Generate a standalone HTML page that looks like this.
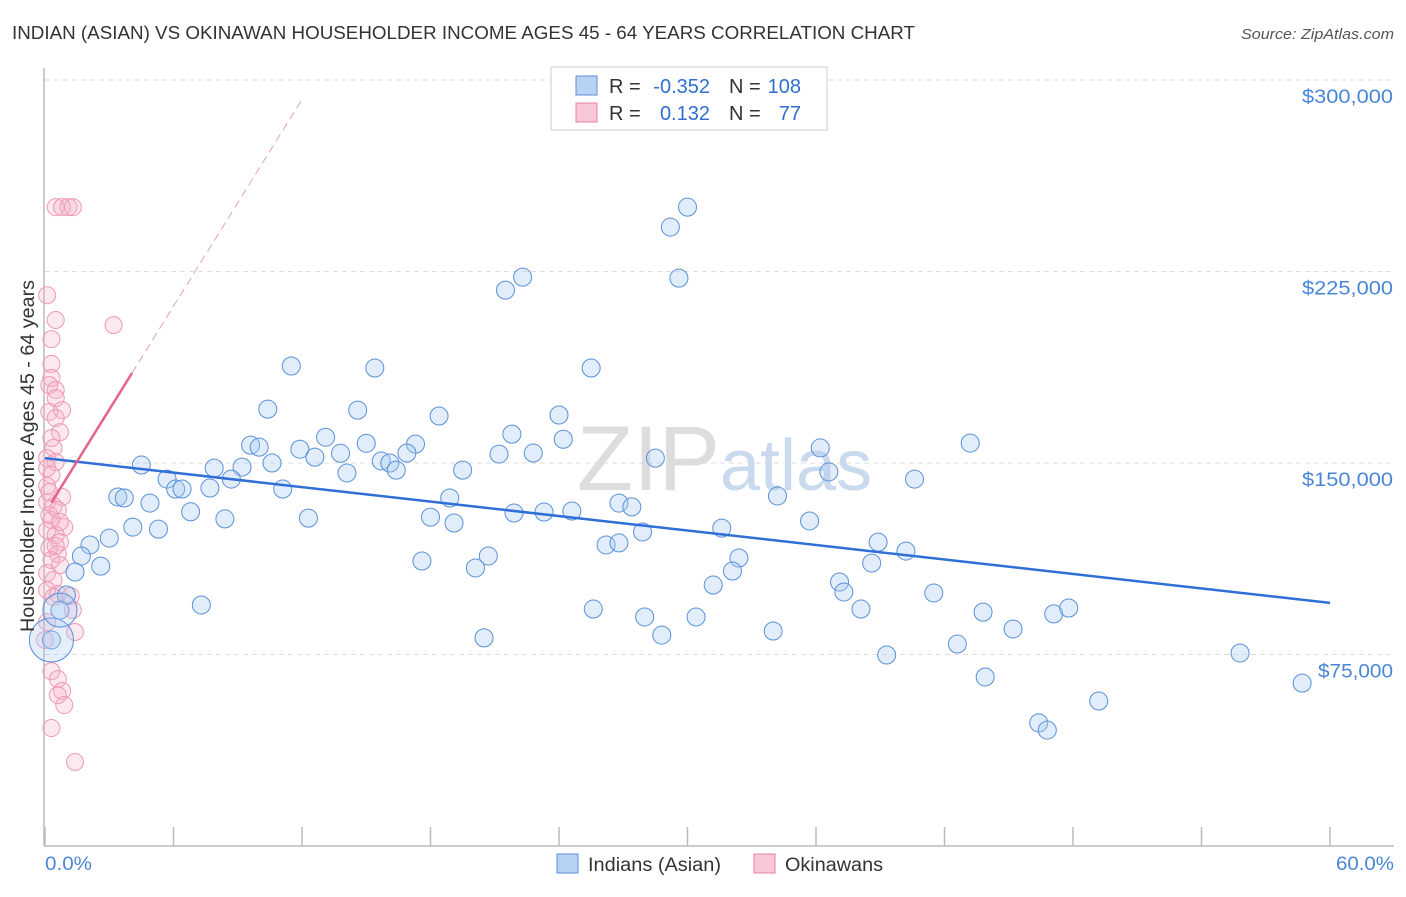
<!DOCTYPE html>
<html><head><meta charset="utf-8"><style>
body{margin:0;background:#fff;font-family:"Liberation Sans",sans-serif;}
svg text{font-family:"Liberation Sans",sans-serif;}
</style></head><body>
<svg id="chart" width="1406" height="892" viewBox="0 0 1406 892">
<text x="12" y="39" font-size="18" fill="#333" textLength="903" lengthAdjust="spacingAndGlyphs">INDIAN (ASIAN) VS OKINAWAN HOUSEHOLDER INCOME AGES 45 - 64 YEARS CORRELATION CHART</text>
<text x="1241" y="39" font-size="15" fill="#555" font-style="italic" textLength="153" lengthAdjust="spacingAndGlyphs">Source: ZipAtlas.com</text>
<text x="720" y="490" font-size="92" fill="#ddd" text-anchor="end" font-family="Liberation Serif">ZIP</text>
<text x="720" y="490" font-size="72" fill="#c9d9ee">atlas</text>
<g id="grid"></g><g id="axes"></g><g id="pts"></g><g id="trend"></g>
<text transform="translate(34,632) rotate(-90)" font-size="19" fill="#333" textLength="352" lengthAdjust="spacingAndGlyphs">Householder Income Ages 45 - 64 years</text>
<text x="45" y="870" font-size="19" fill="#4a86d8" textLength="47" lengthAdjust="spacingAndGlyphs">0.0%</text>
<text x="1336" y="870" font-size="19" fill="#4a86d8" textLength="58" lengthAdjust="spacingAndGlyphs">60.0%</text>
<g>
<rect x="551" y="67" width="276" height="63" fill="#fff" stroke="#ccc"/>
<rect x="576" y="76" width="21" height="19" fill="#b8d2f4" stroke="#5b8fd8"/>
<rect x="576" y="103" width="21" height="19" fill="#f9c8d7" stroke="#e87fa0"/>
<text x="609" y="93" font-size="20" fill="#333">R =</text>
<text x="710" y="93" font-size="20" fill="#2f6fd0" text-anchor="end">-0.352</text>
<text x="729" y="93" font-size="20" fill="#333">N =</text>
<text x="801" y="93" font-size="20" fill="#2f6fd0" text-anchor="end">108</text>
<text x="609" y="120" font-size="20" fill="#333">R =</text>
<text x="710" y="120" font-size="20" fill="#2f6fd0" text-anchor="end">0.132</text>
<text x="729" y="120" font-size="20" fill="#333">N =</text>
<text x="801" y="120" font-size="20" fill="#2f6fd0" text-anchor="end">77</text>
</g>
<g>
<rect x="557" y="854" width="21" height="19" fill="#b8d2f4" stroke="#5b8fd8"/>
<text x="588" y="871" font-size="19" fill="#333" textLength="133" lengthAdjust="spacingAndGlyphs">Indians (Asian)</text>
<rect x="754" y="854" width="21" height="19" fill="#f9c8d7" stroke="#e87fa0"/>
<text x="785" y="871" font-size="19" fill="#333" textLength="98" lengthAdjust="spacingAndGlyphs">Okinawans</text>
</g>
</svg>
<script>
const yTicks=[75000,150000,225000,300000];
const yTickLabels=["$75,000","$150,000","$225,000","$300,000"];
const xTicks=[0,6,12,18,24,30,36,42,48,54,60];
const blueX=[30.0,29.2,22.3,21.5,29.6,11.5,15.4,25.5,10.4,14.6,24.0,18.4,21.8,9.6,10.0,13.1,15.0,11.9,12.6,13.8,24.2,17.3,36.2,43.2,4.5,7.9,9.2,10.6,15.7,16.1,16.4,16.9,19.5,21.2,22.8,28.5,36.6,14.1,5.7,8.7,40.6,3.4,3.7,6.1,6.4,7.7,11.1,4.9,18.9,26.8,27.4,34.2,6.8,12.3,8.4,18.0,19.1,21.9,23.3,24.6,27.9,31.6,35.7,4.1,5.3,3.0,2.1,1.7,20.7,38.9,26.2,26.8,40.2,17.6,32.4,20.1,38.6,32.1,1.4,2.6,31.2,37.1,37.3,41.5,1.0,7.3,25.6,28.0,30.4,38.1,43.8,47.1,47.8,45.2,34.0,20.5,28.8,42.6,39.3,55.8,43.9,58.7,49.2,46.4,46.8,0.3,0.7];
const blueY=[250.2,242.4,222.8,217.7,222.4,188.0,187.2,187.2,171.1,170.7,168.8,168.4,161.3,157.0,156.2,160.1,157.7,155.4,152.3,153.8,159.3,157.4,155.9,157.8,149.2,148.0,148.4,150.0,150.8,150.0,147.2,153.9,147.2,153.5,153.9,151.9,146.5,146.1,143.7,143.7,143.7,136.7,136.3,139.8,139.8,140.2,139.8,134.3,136.3,134.3,132.8,137.1,130.9,128.4,128.1,128.8,126.5,130.4,130.8,131.2,123.0,124.5,127.3,124.9,124.1,120.6,117.9,113.6,113.6,119.0,117.9,118.7,115.5,111.6,112.8,108.9,110.8,107.7,107.3,109.6,102.2,103.4,99.5,99.1,98.3,94.4,92.8,89.7,89.7,92.8,91.6,90.9,93.2,85.0,84.2,81.5,82.6,79.1,74.8,75.6,66.2,63.8,56.8,48.2,45.4,80.7,92.4];
const blueBig=[0.3,0.7];
const blueBigY=[80.7,92.4];
const pinkX=[0.5,0.8,1.1,1.3,0.1,0.5,3.2,0.3,0.3,0.3,0.2,0.5,0.5,0.2,0.8,0.5,0.7,0.3,0.4,0.1,0.5,0.1,0.3,0.8,0.1,0.4,0.3,0.9,0.1,0.5,0.7,0.2,0.6,0.3,0.7,0.1,0.4,0.1,0.6,1.2,0.4,1.3,0.1,1.4,0.0,0.3,0.6,0.8,0.6,0.9,0.3,1.4,0.1,0.2,0.6,0.2,0.7,0.5];
const pinkY=[250.2,250.2,250.2,250.2,215.7,206.0,204.0,198.5,188.8,183.3,180.5,178.6,175.4,170.0,170.7,167.6,162.1,159.8,155.9,151.9,150.4,148.0,145.3,136.7,134.7,133.1,127.7,124.9,123.7,121.8,119.0,116.7,114.3,112.0,110.0,106.9,104.2,100.2,98.7,97.9,97.5,92.4,87.7,83.8,80.7,68.5,65.4,60.7,59.1,55.2,46.2,32.9,141.0,138.6,131.6,129.6,126.9,117.5];
const blueTrend=[151.9,95.2];
const pinkTrend=[130.4,13.5];
const NS="http://www.w3.org/2000/svg";
const xs=v=>45+v/60*1285;
const ys=v=>846-v/75000*191.5;
function mk(tag,attrs,parent){const e=document.createElementNS(NS,tag);for(const k in attrs)e.setAttribute(k,attrs[k]);document.getElementById(parent).appendChild(e);return e;}
yTicks.forEach((t,i)=>{
 const g=mk('line',{x1:45,x2:1394,y1:ys(t),y2:ys(t),stroke:'#ddd','stroke-dasharray':'5,4'},'grid');
 
 
 const tx=mk('text',{x:1393,y:ys(t)+23,'font-size':19,fill:'#4a86d8','text-anchor':'end',textLength:t>=100000?91:75,lengthAdjust:'spacingAndGlyphs'},'grid');
 tx.textContent=yTickLabels[i];
 
 
});
const ax=mk('line',{x1:44,x2:44,y1:68,y2:846,stroke:'#bbb','stroke-width':1.5},'axes');


const bx=mk('line',{x1:44,x2:1394,y1:846,y2:846,stroke:'#bbb','stroke-width':1.5},'axes');


xTicks.forEach(t=>{
 const l=mk('line',{x1:xs(t),x2:xs(t),y1:827,y2:846,stroke:'#bbb','stroke-width':1.5},'axes');
 
 
});
pinkX.forEach((x,i)=>{
 const c=mk('circle',{cx:xs(x),cy:ys(pinkY[i]*1000),r:8.5,fill:'rgba(246,180,202,0.3)',stroke:'#ee9ab6','stroke-width':1},'pts');
 
 
});
blueX.forEach((x,i)=>{
 const c=mk('circle',{cx:xs(x),cy:ys(blueY[i]*1000),r:9,fill:'rgba(170,202,242,0.35)',stroke:'#5a90da','stroke-width':1},'pts');
 
 
});
blueBig.forEach((x,i)=>{
 const c=mk('circle',{cx:xs(x),cy:ys(blueBigY[i]*1000),r:i==0?22:17,fill:'rgba(170,202,242,0.3)',stroke:'#5a90da','stroke-width':1},'pts');
 
 
});
const bt=mk('line',{x1:xs(0),y1:ys(blueTrend[0]*1000),x2:xs(60),y2:ys(blueTrend[1]*1000),stroke:'#2f6fd6','stroke-width':2.5},'trend');


const pv=x=>(pinkTrend[0]+pinkTrend[1]*x)*1000;
const pt=mk('line',{x1:xs(0.3),y1:ys(pv(0.3)),x2:xs(4.06),y2:ys(pv(4.06)),stroke:'#e8628f','stroke-width':2.5},'trend');


const pd=mk('line',{x1:xs(4.06),y1:ys(pv(4.06)),x2:xs(12),y2:ys(pv(12)),stroke:'#eba0b8','stroke-width':1,'stroke-dasharray':'8,5'},'trend');


</script>
</body></html>
